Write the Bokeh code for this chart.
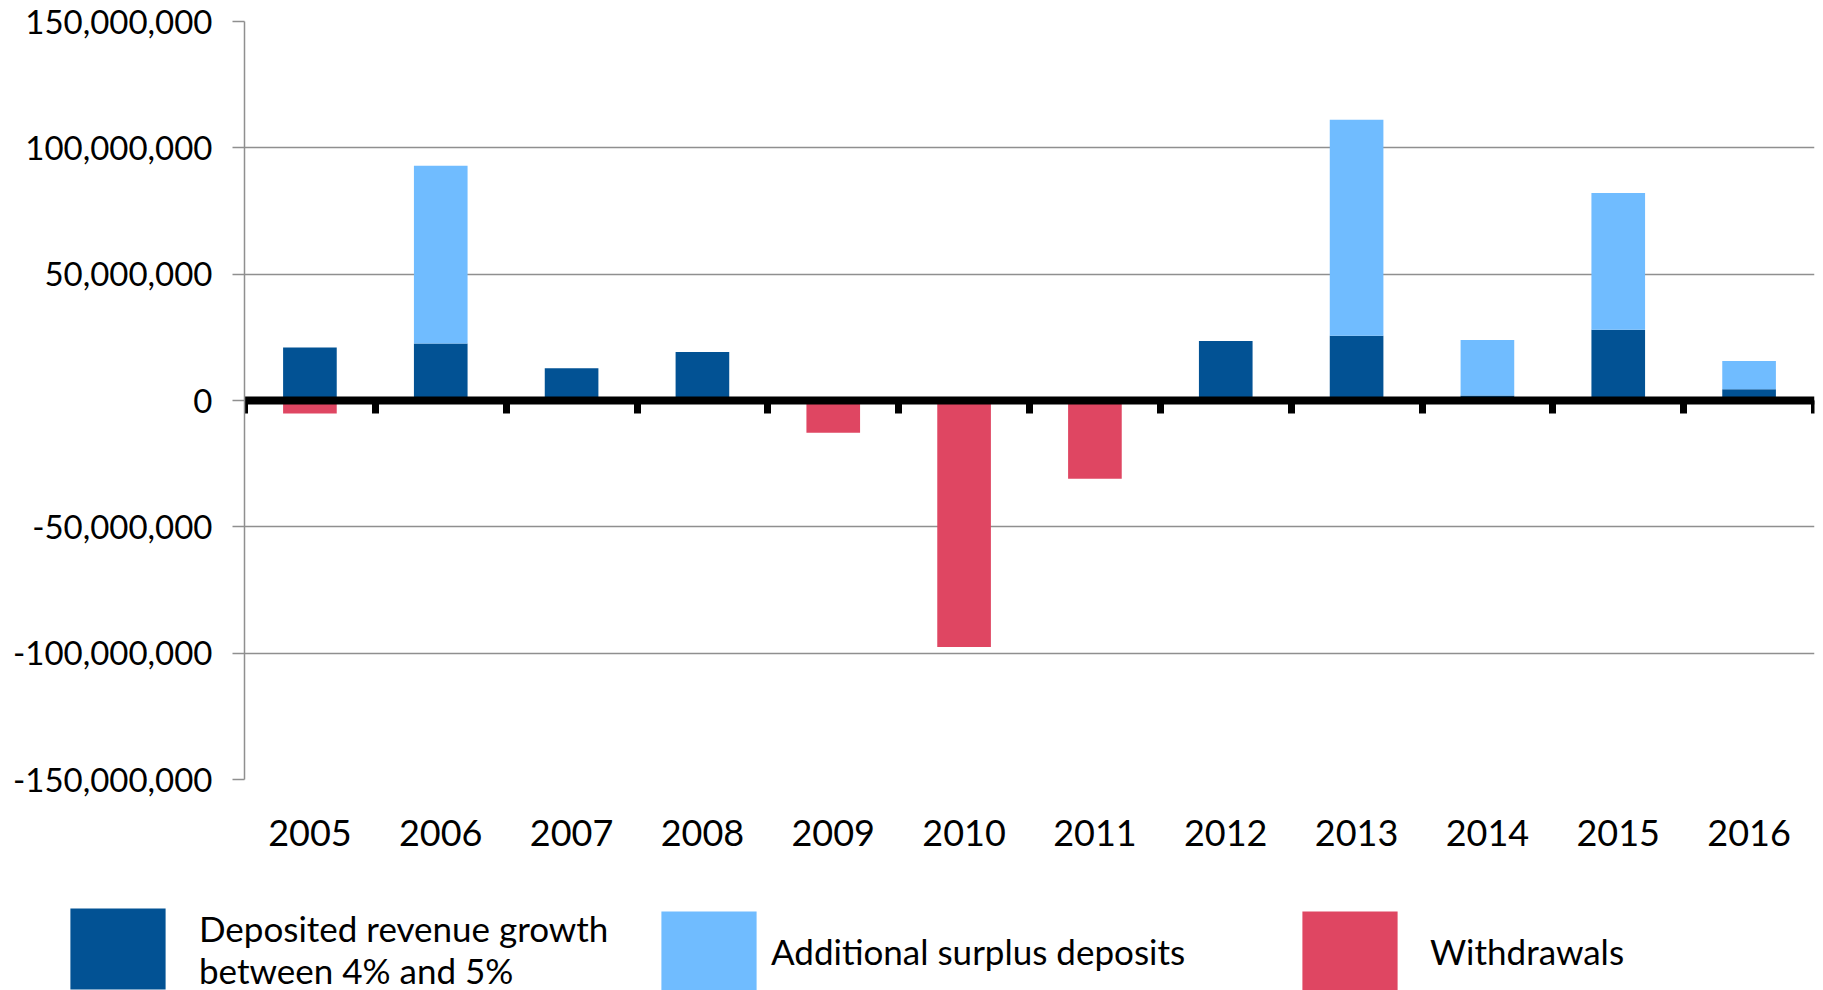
from bokeh.plotting import figure
from bokeh.layouts import column
from bokeh.models import (ColumnDataSource, FixedTicker, LinearAxis, NumeralTickFormatter,
                          Legend, LegendItem, Range1d)
from bokeh.embed import file_html
from bokeh.resources import INLINE

# Fund flows per year
years = ["2005", "2006", "2007", "2008", "2009", "2010",
         "2011", "2012", "2013", "2014", "2015", "2016"]
deposited = [21_000_000, 22_600_000, 12_800_000, 19_200_000, 0, 0,
             0, 23_500_000, 25_600_000, 2_000_000, 28_000_000, 4_500_000]
additional = [0, 70_300_000, 0, 0, 0, 0,
              0, 0, 85_500_000, 21_900_000, 54_100_000, 11_100_000]
withdrawals = [-5_100_000, 0, 0, 0, -12_800_000, -97_600_000,
               -31_000_000, 0, 0, 0, 0, 0]
y_ticks = [-150_000_000, -100_000_000, -50_000_000, 0,
           50_000_000, 100_000_000, 150_000_000]

series_cols = ["deposited", "additional", "withdrawals"]
series_names = ["Deposited revenue growth\nbetween 4% and 5%",
                "Additional surplus deposits",
                "Withdrawals"]
colors = ["#025294", "#70BCFF", "#DF4662"]

FONT = "Lato"
GRID = "#8f8f8f"
W = 1823
BAR_W = 0.41

x = list(range(len(years)))
source = ColumnDataSource(dict(x=x, deposited=deposited, additional=additional,
                               withdrawals=withdrawals))

p = figure(width=W, height=880, output_backend="svg", toolbar_location=None,
           x_range=Range1d(-0.5, len(years) - 0.5),
           y_range=Range1d(y_ticks[0], y_ticks[-1]),
           min_border_left=244, min_border_right=9, min_border_top=21,
           min_border_bottom=101)
p.frame_align = False
p.outline_line_color = None
p.background_fill_color = "white"
p.border_fill_color = "white"

p.vbar_stack(["deposited", "additional"], x="x", width=BAR_W,
             fill_color=colors[:2], line_color=None, source=source)
p.vbar(x="x", top="withdrawals", bottom=0, width=BAR_W,
       fill_color=colors[2], line_color=None, source=source)

# category labels along the bottom
xa = p.xaxis[0]
xa.ticker = FixedTicker(ticks=x)
xa.major_label_overrides = {i: y for i, y in zip(x, years)}
xa.axis_line_color = None
xa.major_tick_out = 0
xa.major_tick_in = 0
xa.minor_tick_out = 0
xa.minor_tick_in = 0
xa.major_label_standoff = 40
xa.major_label_text_font = FONT
xa.major_label_text_font_size = "36px"
xa.major_label_text_color = "black"

ya = p.yaxis[0]
ya.ticker = FixedTicker(ticks=y_ticks)
ya.formatter = NumeralTickFormatter(format="0,0")
ya.axis_line_color = GRID
ya.axis_line_width = 1.5
ya.major_tick_line_color = GRID
ya.major_tick_line_width = 1.5
ya.major_tick_out = 12
ya.major_tick_in = 0
ya.minor_tick_out = 0
ya.minor_tick_in = 0
ya.major_label_standoff = 20
ya.major_label_text_font = FONT
ya.major_label_text_font_size = "33px"
ya.major_label_text_color = "black"

p.xgrid.visible = False
p.ygrid.grid_line_color = GRID
p.ygrid.grid_line_width = 1.5

# heavy zero line with category-boundary ticks
boundaries = [i - 0.5 for i in range(len(years) + 1)]
zero_axis = LinearAxis(fixed_location=0, ticker=FixedTicker(ticks=boundaries),
                       axis_line_color="black", axis_line_width=8,
                       major_tick_line_color="black", major_tick_line_width=7,
                       major_tick_in=0, major_tick_out=13,
                       minor_tick_in=0, minor_tick_out=0,
                       major_label_overrides={b: "" for b in boundaries})
p.add_layout(zero_axis, "below")

# legend strip under the chart; its hidden renderers only supply the swatches
leg = figure(width=W, height=110, output_backend="svg", toolbar_location=None,
             x_range=Range1d(-0.5, len(years) - 0.5),
             y_range=Range1d(y_ticks[0], y_ticks[-1]),
             x_axis_location=None, y_axis_location=None,
             min_border=0, min_border_left=0, min_border_right=0,
             min_border_top=0, min_border_bottom=0)
leg.frame_align = False
leg.outline_line_color = None
leg.grid.visible = False
leg.background_fill_color = "white"
leg.border_fill_color = "white"

swatches = [leg.vbar(x="x", top=col, width=BAR_W, fill_color=c, line_color=None,
                     source=source, visible=False)
            for col, c in zip(series_cols, colors)]

# (renderer, label, location, label standoff, glyph height)
legend_spec = [
    (swatches[0], series_names[0], (58, -9), 22, 101),
    (swatches[1], series_names[1], (649, -10), 3, 99),
    (swatches[2], series_names[2], (1290, -10), 21, 99),
]
for rend, name, loc, standoff, gh in legend_spec:
    lg = Legend(items=[LegendItem(label=name, renderers=[rend])], location=loc,
                glyph_width=119, glyph_height=gh, label_standoff=standoff,
                padding=0, margin=0, spacing=0,
                border_line_color=None, background_fill_alpha=0,
                label_text_font=FONT, label_text_font_size="35px",
                label_text_color="black", label_text_line_height=1.15)
    leg.add_layout(lg)

open("out.html", "w").write(file_html(column(p, leg, spacing=0), INLINE))
